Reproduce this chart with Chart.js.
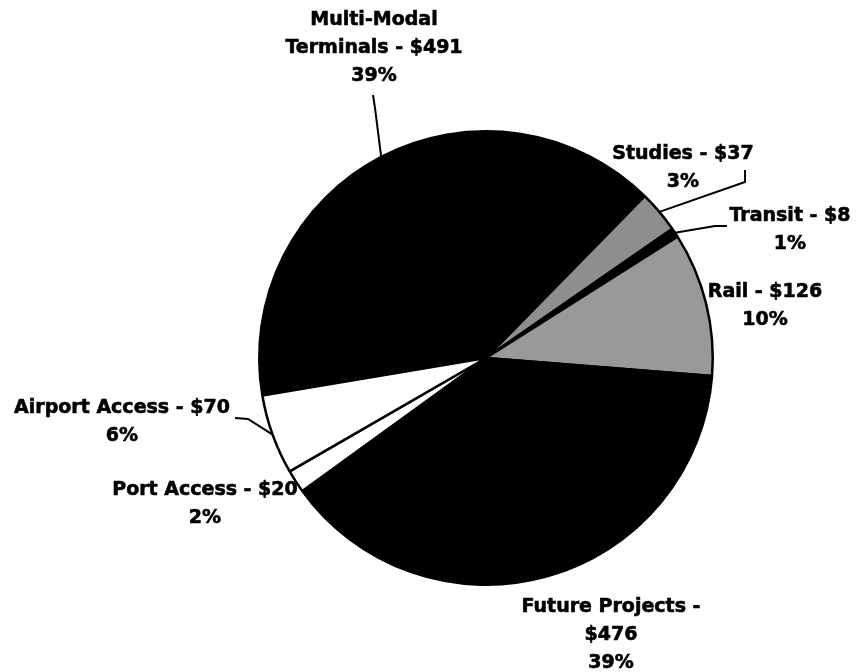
<!DOCTYPE html>
<html>
<head>
<meta charset="utf-8">
<script src="https://cdn.jsdelivr.net/npm/chart.js@4/dist/chart.umd.min.js"></script>
<style>
  html, body { margin: 0; padding: 0; background: #fff; }
  #pie { display: block; }
</style>
</head>
<body>
<canvas id="pie" width="857" height="672"></canvas>
<script>
// program spending by category ($)
const categories = ['Multi-Modal Terminals', 'Studies', 'Transit', 'Rail', 'Future Projects', 'Port Access', 'Airport Access'];
const amounts = [491, 37, 8, 126, 476, 20, 70];
const percentLabels = ['39%', '3%', '1%', '10%', '39%', '2%', '6%'];
// text lines for each callout
const calloutLines = [
  ['Multi-Modal', 'Terminals - $491', percentLabels[0]],
  ['Studies - $37', percentLabels[1]],
  ['Transit - $8', percentLabels[2]],
  ['Rail - $126', percentLabels[3]],
  ['Future Projects -', '$476', percentLabels[4]],
  ['Port Access - $20', percentLabels[5]],
  ['Airport Access - $70', percentLabels[6]]
];
const sliceColors = ['#000000', '#8e8e8e', '#000000', '#999999', '#000000', '#ffffff', '#ffffff'];

// where each callout sits, relative to the pie centre (first line baseline)
const calloutPos = [[-112, -333], [197, -199], [304, -137], [279, -61], [125, 254], [-281, 137], [-364, 55]];
// leader lines: label end, then elbow, then the slice edge
const leaders = {
  0: [[-113, -263], [-111, -250]],
  1: [[259, -188], [259, -176]],
  2: [[241, -132], [229, -132]],
  6: [[-251, 60], [-238, 61]]
};

const calloutPlugin = {
  id: 'callouts',
  afterDraw(chart) {
    const ctx = chart.ctx;
    const arcs = chart.getDatasetMeta(0).data;
    ctx.save();
    ctx.fillStyle = '#000';
    ctx.strokeStyle = '#000';
    ctx.font = 'bold 19px "DejaVu Sans", Verdana, sans-serif';
    ctx.textAlign = 'center';
    ctx.textBaseline = 'alphabetic';
    arcs.forEach((arc, i) => {
      const cx = arc.x, cy = arc.y;
      const [dx, dy] = calloutPos[i];
      ctx.lineWidth = 0.6;
      calloutLines[i].forEach((line, k) => {
        ctx.fillText(line, cx + dx, cy + dy + k * 28);
        ctx.strokeText(line, cx + dx, cy + dy + k * 28);
      });
      if (leaders[i]) {
        const mid = (arc.startAngle + arc.endAngle) / 2;
        const r = arc.outerRadius;
        ctx.lineWidth = 2;
        ctx.beginPath();
        ctx.moveTo(cx + leaders[i][0][0], cy + leaders[i][0][1]);
        ctx.lineTo(cx + leaders[i][1][0], cy + leaders[i][1][1]);
        ctx.lineTo(cx + Math.cos(mid) * r, cy + Math.sin(mid) * r);
        ctx.stroke();
      }
    });
    ctx.restore();
  }
};

new Chart(document.getElementById('pie'), {
  type: 'pie',
  data: {
    labels: categories,
    datasets: [{
      data: amounts,
      backgroundColor: sliceColors,
      borderColor: '#000',
      borderWidth: 2.5
    }]
  },
  options: {
    responsive: false,
    animation: false,
    rotation: -99.5,
    layout: { padding: { top: 130, bottom: 86, left: 258, right: 143 } },
    plugins: {
      legend: { display: false },
      tooltip: { enabled: false }
    }
  },
  plugins: [calloutPlugin]
});
</script>
</body>
</html>
